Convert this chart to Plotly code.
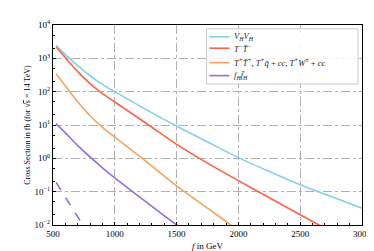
import plotly.graph_objects as go

f_vals = [525, 600, 700, 800, 900, 1000, 1250, 1500, 1750, 2000, 2250, 2500, 2750, 3000]
vhvh = [2450, 1290, 600, 300, 165, 100, 29.5, 9.3, 3.1, 1.05, 0.40, 0.16, 0.071, 0.032]
tmtm = [2190, 1050, 398, 174, 87, 49, 11.5, 2.63, 0.72, 0.214, 0.066, 0.0204, 0.0063, 0.002]
tptp = [347, 148, 50, 19, 8.5, 4.3, 0.83, 0.15, 0.032, 0.0069, 0.0015, 0.0003, 0.0001, 0.00003]
fhfh = [11, 5.8, 2.4, 1.1, 0.52, 0.26, 0.05, 0.01, 0.002, 0.0004, 0.0001, 0.00003, 0.00001, 0.000003]
f_dash = [525, 600, 700, 800]
fh_dash = [0.19, 0.068, 0.018, 0.0045]

y_tickvals = [0.01, 0.1, 1, 10, 100, 1000, 10000]
y_ticktext = ["10<sup>−2</sup>", "10<sup>−1</sup>", "10<sup>0</sup>", "10<sup>1</sup>",
              "10<sup>2</sup>", "10<sup>3</sup>", "10<sup>4</sup>"]
x_tickvals = [500, 1000, 1500, 2000, 2500, 3000]

names = [
    "<i>V<sub>H</sub>V<sub>H</sub></i>",
    "<i>T<sup>−</sup>T̄<sup>−</sup></i>",
    "<i>T<sup>+</sup>T̄<sup>+</sup></i>, <i>T<sup>+</sup>q̄</i> + <i>cc</i>, <i>T<sup>+</sup>W<sup>±</sup></i> + <i>cc</i>",
    "<i>f<sub>H</sub>f̄<sub>H</sub></i>",
]
colors = ["#87CEEB", "#FF6347", "#F4A460", "#9370DB"]
series = [vhvh, tmtm, tptp, fhfh]

fig = go.Figure()
for nm, c, s in zip(names, colors, series):
    fig.add_trace(go.Scatter(x=f_vals, y=s, mode="lines", name=nm, showlegend=False,
                             line=dict(color=c, width=1.6, shape="spline", smoothing=0.8)))
fig.add_trace(go.Scatter(x=f_dash, y=fh_dash, mode="lines", showlegend=False,
                         line=dict(color=colors[3], width=1.6, dash="dash")))

font = "Liberation Serif, DejaVu Serif, serif"

# hand-drawn legend (paper coordinates)
fig.add_shape(type="rect", xref="paper", yref="paper", x0=0.497, x1=0.987, y0=0.705, y1=0.981,
              line=dict(color="#cccccc", width=1), fillcolor="rgba(255,255,255,0.85)", layer="above")
leg_y = [0.941, 0.884, 0.812, 0.747]
for nm, c, yy in zip(names, colors, leg_y):
    fig.add_shape(type="line", xref="paper", yref="paper", x0=0.506, x1=0.571, y0=yy, y1=yy,
                  line=dict(color=c, width=1.6), layer="above")
    fig.add_annotation(xref="paper", yref="paper", x=0.580, y=yy, text=nm, showarrow=False,
                       xanchor="left", yanchor="middle", font=dict(family=font, size=8.5, color="#222222"))

axis_common = dict(showline=True, linecolor="black", linewidth=1, mirror=True,
                   ticks="inside", ticklen=3, tickcolor="black",
                   showgrid=True, gridcolor="#b0b0b0", griddash="dashdot", gridwidth=0.8,
                   zeroline=False, tickfont=dict(family=font, size=9, color="black"))

fig.update_layout(
    width=374, height=251,
    margin=dict(l=45, r=17, t=10, b=34),
    plot_bgcolor="white", paper_bgcolor="white",
    font=dict(family=font, size=9, color="black"),
    showlegend=False,
    xaxis=dict(range=[500, 3000], tickvals=x_tickvals, ticktext=[str(v) for v in x_tickvals],
               minor=dict(dtick=100, ticks="inside", ticklen=2, tickcolor="black", showgrid=False),
               title=dict(text="<i>f</i> in GeV", font=dict(family=font, size=9), standoff=4),
               **axis_common),
    yaxis=dict(type="log", range=[-2, 4], tickvals=y_tickvals, ticktext=y_ticktext,
               minor=dict(ticks="inside", ticklen=2, tickcolor="black", showgrid=False),
               title=dict(text="Cross Section in fb (for √<span style='text-decoration:overline'>s</span> = 14 TeV)",
                          font=dict(family=font, size=8), standoff=2),
               **axis_common),
)

fig.write_html("out.html")
